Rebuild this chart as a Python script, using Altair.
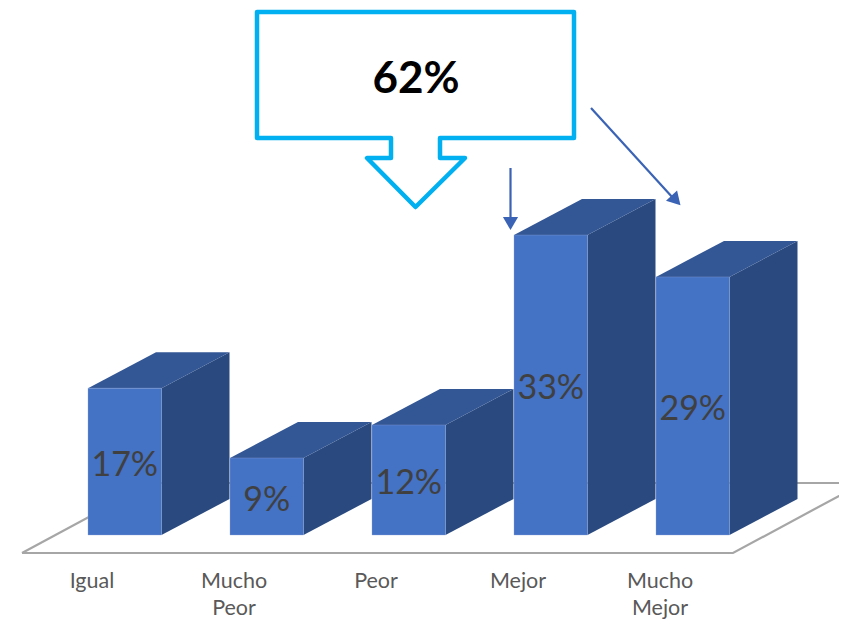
import altair as alt
import pandas as pd

# Chart values
categories = [["Igual"], ["Mucho", "Peor"], ["Peor"], ["Mejor"], ["Mucho", "Mejor"]]
bar_labels = ["17%", "9%", "12%", "33%", "29%"]
bar_heights = [16.5, 8.65, 12.36, 33.7, 29.0]  # drawn height
callout_text = "62%"

# Layout constants
PW, PH = 831, 614
STEP, UNIT = 142.0, 8.9     # px per category, px per percent
LEFT0, BASE = 88.0, 535.0   # page px of first bar's left edge and of the bars' foot
BAR_W = 73.5 / STEP
DX, DY = 68 / STEP, 36 / UNIT


def ux(p):
    return (p - LEFT0) / STEP


def uy(p):
    return (BASE - p) / UNIT


xs = alt.Scale(domain=[ux(8), ux(8 + PW)], range=[0, PW], nice=False, zero=False)
ys = alt.Scale(domain=[uy(8 + PH), uy(8)], range=[PH, 0], nice=False, zero=False)


def X(f="x"):
    return alt.X(f"{f}:Q", scale=xs, axis=None)


def Y(f="y"):
    return alt.Y(f"{f}:Q", scale=ys, axis=None)


front, side, top, val_text, cat_text = [], [], [], [], []
for i, (h, lab, cat) in enumerate(zip(bar_heights, bar_labels, categories)):
    l, r = i, i + BAR_W
    front.append(dict(x=l, x2=r, y=0, y2=h))
    side += [dict(b=i, x=r, y=0, y2=h), dict(b=i, x=r + DX, y=DY, y2=h + DY)]
    top += [dict(b=i, y=h, x=l, x2=r), dict(b=i, y=h + DY, x=l + DX, x2=r + DX)]
    val_text.append(dict(x=(l + r) / 2, y=h / 2 - 0.45, t=lab))
    for j, line in enumerate(cat):
        cat_text.append(dict(x=i + 4 / STEP, y=uy(582 + 26.5 * j), t=line))

df_front, df_side, df_top = map(pd.DataFrame, (front, side, top))

# Floor outline
floor_px = [(22, 553), (733, 553), (863, 483), (152, 483), (22, 553)]
df_floor = pd.DataFrame(
    [dict(o=k, x=ux(a), y=uy(b)) for k, (a, b) in enumerate(floor_px)]
)
floor = alt.Chart(df_floor).mark_line(
    color="#A6A6A6", strokeWidth=2.2, clip=True, strokeJoin="miter"
).encode(x=X(), y=Y(), order="o:Q")

side_m = alt.Chart(df_side).mark_area(color="#2A4A7F", orient="vertical").encode(
    x=X(), y=Y(), y2="y2:Q", detail="b:N"
)
top_m = alt.Chart(df_top).mark_area(color="#335695", orient="horizontal").encode(
    y=Y(), x=X(), x2="x2:Q", detail="b:N"
)
front_m = alt.Chart(df_front).mark_rect(
    color="#4472C4", stroke="#8FAADC", strokeWidth=1, strokeOpacity=0.35
).encode(x=X(), x2="x2:Q", y=Y(), y2="y2:Q")

val_m = alt.Chart(pd.DataFrame(val_text)).mark_text(
    font="Lato", fontSize=34, color="#404040", baseline="middle", align="center"
).encode(x=X(), y=Y(), text="t:N")
cat_m = alt.Chart(pd.DataFrame(cat_text)).mark_text(
    font="Lato", fontSize=21.5, color="#595959", baseline="middle", align="center"
).encode(x=X(), y=Y(), text="t:N")

# Callout
callout_px = [
    (257, 12), (574, 12), (574, 138), (440, 138), (440, 158), (465, 158),
    (415.5, 207), (367, 158), (391, 158), (391, 138), (257, 138), (257, 12),
]
df_call = pd.DataFrame(
    [dict(o=k, x=ux(a), y=uy(b)) for k, (a, b) in enumerate(callout_px)]
)
call_m = alt.Chart(df_call).mark_line(
    color="#00B0F0", strokeWidth=4.5, strokeJoin="round", strokeCap="round"
).encode(x=X(), y=Y(), order="o:Q")
call_t = alt.Chart(pd.DataFrame([dict(x=ux(416), y=uy(80), t=callout_text)])).mark_text(
    font="Lato", fontSize=44, fontWeight="bold", color="#000000",
    baseline="middle", align="center",
).encode(x=X(), y=Y(), text="t:N")

# Arrows
ARROW = "#3A63B5"
arrows_px = [
    (0, 510.5, 168), (0, 510.5, 218),
    (1, 591, 108), (1, 673, 198),
]
df_arrows = pd.DataFrame(
    [dict(a=a, x=ux(p), y=uy(q)) for a, p, q in arrows_px]
)
arr_m = alt.Chart(df_arrows).mark_line(color=ARROW, strokeWidth=2.2).encode(
    x=X(), y=Y(), detail="a:N"
)
head1 = alt.Chart(pd.DataFrame([dict(x=ux(510.5), y=uy(223.5))])).mark_point(
    shape="triangle-down", filled=True, color=ARROW, opacity=1, size=230
).encode(x=X(), y=Y())
head2 = alt.Chart(pd.DataFrame([dict(x=ux(676), y=uy(200.5))])).mark_point(
    shape="triangle-up", angle=137, filled=True, color=ARROW, opacity=1, size=230
).encode(x=X(), y=Y())

chart = alt.layer(
    floor, side_m, top_m, front_m, val_m, cat_m, call_m, call_t, arr_m, head1, head2
).properties(
    width=PW, height=PH, padding=0, background="white",
    autosize=alt.AutoSizeParams(type="none"),
).configure_view(stroke=None)

chart.save("out.html", embed_options={"renderer": "svg", "actions": False})
